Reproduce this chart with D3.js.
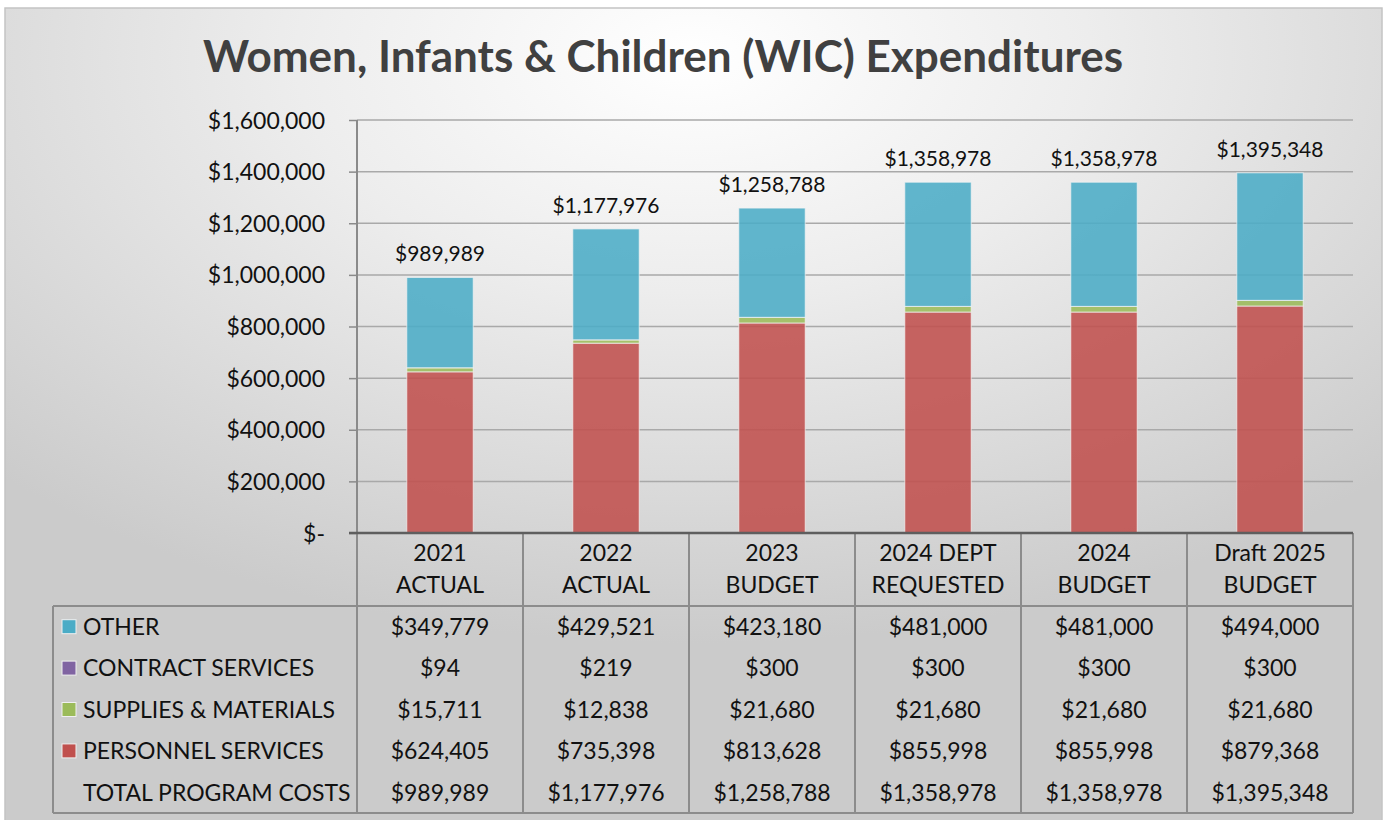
<!DOCTYPE html>
<html>
<head>
<meta charset="utf-8">
<script src="https://cdn.jsdelivr.net/npm/d3@7"></script>
<style>
  body { margin: 0; background: #fff; }
  svg text { font-family: Lato, "Open Sans", sans-serif; fill: #111; }
</style>
</head>
<body>
<div id="chart"></div>
<script>
// data
var categories = ['2021 ACTUAL', '2022 ACTUAL', '2023 BUDGET', '2024 DEPT REQUESTED', '2024 BUDGET', 'Draft 2025 BUDGET'];
var categoryLines = [['2021', 'ACTUAL'], ['2022', 'ACTUAL'], ['2023', 'BUDGET'], ['2024 DEPT', 'REQUESTED'], ['2024', 'BUDGET'], ['Draft 2025', 'BUDGET']];
var personnel = [624405, 735398, 813628, 855998, 855998, 879368];
var supplies = [15711, 12838, 21680, 21680, 21680, 21680];
var contract = [94, 219, 300, 300, 300, 300];
var other = [349779, 429521, 423180, 481000, 481000, 494000];
var totals = [989989, 1177976, 1258788, 1358978, 1358978, 1395348];
var yTicks = [0, 200000, 400000, 600000, 800000, 1000000, 1200000, 1400000, 1600000];

var seriesKeys = ['personnel', 'supplies', 'contract', 'other'];
var seriesNames = {other: 'OTHER', contract: 'CONTRACT SERVICES', supplies: 'SUPPLIES & MATERIALS', personnel: 'PERSONNEL SERVICES'};
var seriesColors = {other: '#4bacc6', contract: '#8064a2', supplies: '#9bbb59', personnel: '#c0504d'};
var valuesByKey = {personnel: personnel, supplies: supplies, contract: contract, other: other};

(function(){
  var rows = categories.map(function(c, i){
    return {cat: c, personnel: personnel[i], supplies: supplies[i], contract: contract[i], other: other[i], total: totals[i]};
  });

  var W = 1385, H = 820;
  var plotLeft = 357, plotRight = 1353, plotTop = 120, base = 533;
  var rowTop = 606, rowH = 41.4, tblLeft = 53;
  var fs = '23px';

  var svg = d3.select('#chart').append('svg')
    .attr('width', W).attr('height', H);

  // background gradient
  var grad = svg.append('defs').append('radialGradient').attr('id', 'bg')
    .attr('cx', '50%').attr('cy', '6%').attr('r', '72%');
  grad.append('stop').attr('offset', '0%').attr('stop-color', '#ffffff');
  grad.append('stop').attr('offset', '40%').attr('stop-color', '#ededed');
  grad.append('stop').attr('offset', '100%').attr('stop-color', '#cbcbcb');

  svg.append('rect')
    .attr('x', 5).attr('y', 8).attr('width', 1377).attr('height', 815)
    .attr('fill', 'url(#bg)')
    .attr('stroke', '#c4c4c4').attr('stroke-width', 1.5);

  // title
  svg.append('text')
    .attr('x', 663).attr('y', 72)
    .attr('text-anchor', 'middle')
    .style('font-size', '44px').style('font-weight', 'bold')
    .style('fill', '#404040')
    .text('Women, Infants & Children (WIC) Expenditures');

  var x = d3.scaleBand().domain(categories).range([plotLeft, plotRight]).paddingInner(0.6).paddingOuter(0.3);
  var col = d3.scaleBand().domain(categories).range([plotLeft, plotRight]);
  var y = d3.scaleLinear().domain([0, 1600000]).range([base, plotTop]);

  // gridlines
  svg.append('g').selectAll('line')
    .data(yTicks.slice(1))
    .enter().append('line')
    .attr('x1', plotLeft).attr('x2', plotRight)
    .attr('y1', function(d){ return y(d); })
    .attr('y2', function(d){ return y(d); })
    .attr('stroke', '#a9a9a9').attr('stroke-width', 1.5);

  // y axis
  var yAxis = d3.axisLeft(y).tickValues(yTicks).tickSize(8).tickPadding(24)
    .tickFormat(function(d){ return d === 0 ? '$-' : d3.format('$,')(d); });
  var ax = svg.append('g').attr('transform', 'translate(' + plotLeft + ',0)').call(yAxis);
  ax.select('.domain').attr('stroke', '#8a8a8a').attr('stroke-width', 2).attr('d', 'M0,' + plotTop + 'V' + base);
  ax.selectAll('.tick line').attr('stroke', '#8a8a8a').attr('stroke-width', 1.5);
  ax.selectAll('.tick text').style('font-size', fs).style('font-family', 'Lato, sans-serif').style('fill', '#111').attr('dy', '0.35em');

  // stacked bars
  var layers = d3.stack().keys(seriesKeys)(rows);
  svg.append('g').selectAll('g')
    .data(layers)
    .enter().append('g')
    .attr('fill', function(d){ return seriesColors[d.key]; })
    .selectAll('rect')
    .data(function(d){ return d; })
    .enter().append('rect')
    .attr('x', function(d){ return x(d.data.cat); })
    .attr('width', x.bandwidth())
    .attr('y', function(d){ return y(d[1]); })
    .attr('height', function(d){ return Math.max(0, y(d[0]) - y(d[1])); })
    .attr('fill-opacity', 0.88)
    .attr('stroke', '#f4f4f4').attr('stroke-opacity', 0.7).attr('stroke-width', 1);

  // total labels
  svg.append('g').selectAll('text')
    .data(rows)
    .enter().append('text')
    .attr('x', function(d){ return x(d.cat) + x.bandwidth() / 2; })
    .attr('y', function(d){ return y(d.total) - 16; })
    .attr('text-anchor', 'middle')
    .style('font-size', '21px')
    .text(function(d){ return d3.format('$,')(d.total); });

  // data table
  var tbl = svg.append('g');
  var lineColor = '#8c8c8c';
  var tblBottom = rowTop + rowH * 5;
  function hline(x1, x2, yy){
    tbl.append('line').attr('x1', x1).attr('x2', x2).attr('y1', yy).attr('y2', yy)
      .attr('stroke', lineColor).attr('stroke-width', 2);
  }
  tbl.selectAll('line.v')
    .data(categories)
    .enter().append('line')
    .attr('x1', function(d){ return col(d); }).attr('x2', function(d){ return col(d); })
    .attr('y1', base).attr('y2', tblBottom)
    .attr('stroke', lineColor).attr('stroke-width', 2);
  tbl.append('line').attr('x1', plotRight).attr('x2', plotRight).attr('y1', base).attr('y2', tblBottom)
    .attr('stroke', lineColor).attr('stroke-width', 2);
  tbl.append('line').attr('x1', tblLeft).attr('x2', tblLeft).attr('y1', rowTop).attr('y2', tblBottom)
    .attr('stroke', lineColor).attr('stroke-width', 2);
  hline(tblLeft, plotRight, rowTop);
  hline(tblLeft, plotRight, tblBottom);

  // x axis line (top of table)
  svg.append('line').attr('x1', plotLeft - 8).attr('x2', plotRight).attr('y1', base).attr('y2', base)
    .attr('stroke', '#5e5e5e').attr('stroke-width', 2.5);

  // header labels
  tbl.selectAll('text.hdr')
    .data(categories)
    .enter().append('text')
    .attr('class', 'hdr')
    .attr('text-anchor', 'middle')
    .style('font-size', fs)
    .each(function(d, i){
      var t = d3.select(this);
      categoryLines[i].forEach(function(s, k){
        t.append('tspan').attr('x', col(d) + col.bandwidth() / 2).attr('y', 561 + k * 32).text(s);
      });
    });

  // table rows
  var tableRows = ['other', 'contract', 'supplies', 'personnel', 'total'];
  tableRows.forEach(function(key, r){
    var cy = rowTop + rowH * r + rowH / 2;
    if (key !== 'total') {
      tbl.append('rect')
        .attr('x', 62).attr('y', cy - 7).attr('width', 14).attr('height', 14)
        .attr('fill', seriesColors[key])
        .attr('stroke', '#f0f0f0').attr('stroke-width', 1);
    }
    tbl.append('text')
      .attr('x', 83).attr('y', cy).attr('dy', '0.36em')
      .style('font-size', fs)
      .text(key === 'total' ? 'TOTAL PROGRAM COSTS' : seriesNames[key]);
    var vals = key === 'total' ? totals : valuesByKey[key];
    tbl.selectAll(null)
      .data(vals)
      .enter().append('text')
      .attr('x', function(d, i){ return col(categories[i]) + col.bandwidth() / 2; })
      .attr('y', cy).attr('dy', '0.36em')
      .attr('text-anchor', 'middle')
      .style('font-size', fs)
      .text(function(d){ return d3.format('$,')(d); });
  });
})();
</script>
</body>
</html>
